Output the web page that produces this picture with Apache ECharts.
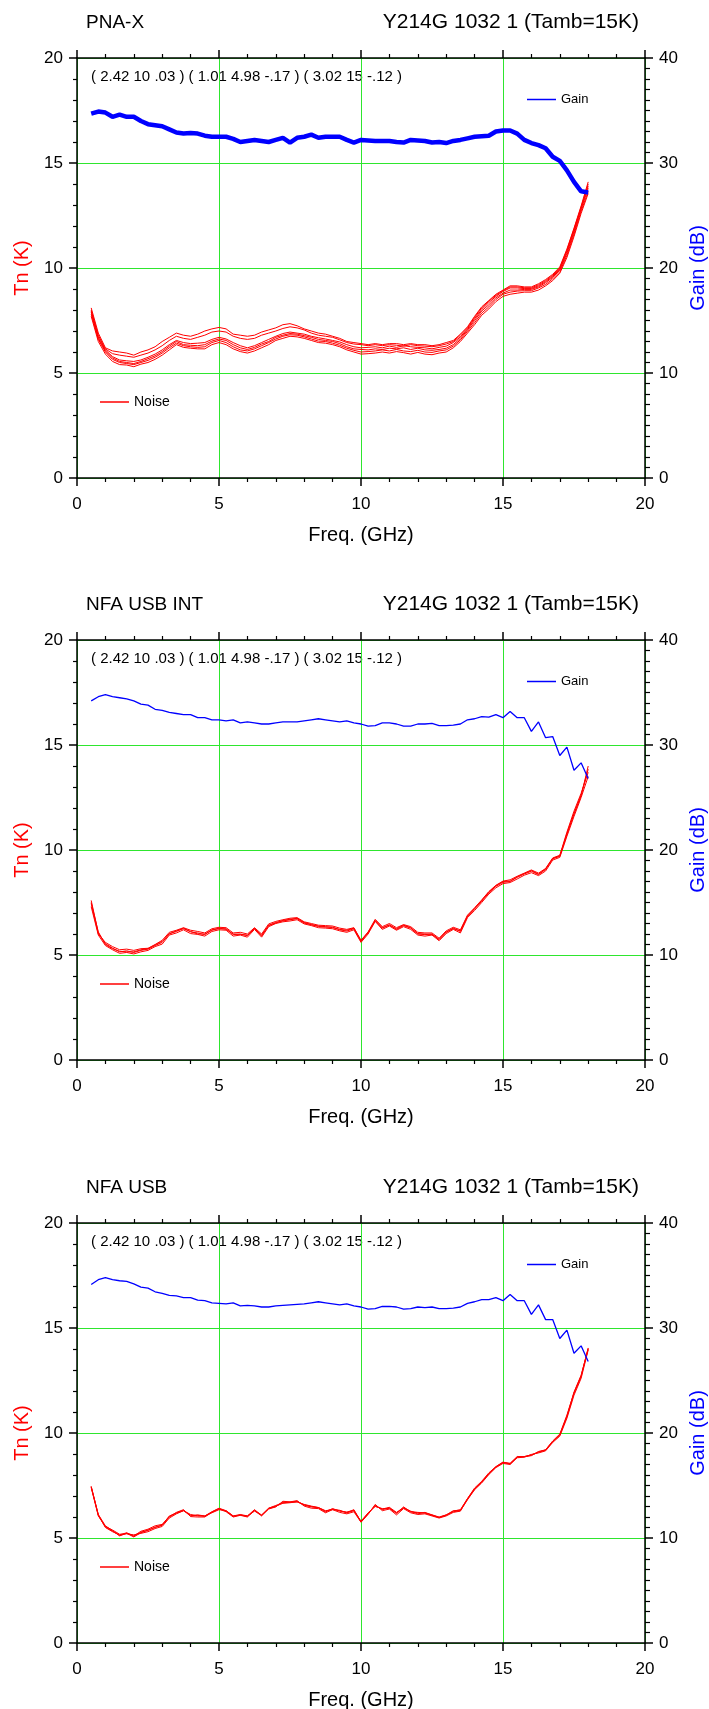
<!DOCTYPE html>
<html>
<head>
<meta charset="utf-8">
<script src="https://cdn.jsdelivr.net/npm/echarts@6/dist/echarts.min.js"></script>
<style>
html, body { margin: 0; padding: 0; background: #fff; }
#chart { width: 709px; height: 1709px; }
</style>
</head>
<body>
<div id="chart"></div>
<script>
// frequency points (GHz)
var freq = [0.5, 0.75, 1, 1.25, 1.5, 1.75, 2, 2.25, 2.5, 2.75, 3, 3.25, 3.5, 3.75, 4, 4.25, 4.5, 4.75, 5, 5.25,
  5.5, 5.75, 6, 6.25, 6.5, 6.75, 7, 7.25, 7.5, 7.75, 8, 8.25, 8.5, 8.75, 9, 9.25, 9.5, 9.75, 10, 10.25,
  10.5, 10.75, 11, 11.25, 11.5, 11.75, 12, 12.25, 12.5, 12.75, 13, 13.25, 13.5, 13.75, 14, 14.25, 14.5, 14.75, 15, 15.25,
  15.5, 15.75, 16, 16.25, 16.5, 16.75, 17, 17.25, 17.5, 17.75, 18]

var titlesLeft = ['PNA-X', 'NFA USB INT', 'NFA USB']
var titleRight = 'Y214G 1032 1 (Tamb=15K)'
var note = '( 2.42 10 .03 ) ( 1.01 4.98 -.17 ) ( 3.02 15 -.12 )'

// PNA-X gain (dB)
var gainPna = [34.7, 34.9, 34.8, 34.4, 34.6, 34.4, 34.4, 34.0, 33.7, 33.6, 33.5, 33.2, 32.9, 32.8, 32.85, 32.8, 32.6, 32.5, 32.5, 32.5,
  32.3, 32.0, 32.1, 32.2, 32.1, 32.0, 32.2, 32.4, 31.95, 32.4, 32.5, 32.7, 32.4, 32.5, 32.5, 32.5, 32.2, 31.95, 32.2, 32.15,
  32.1, 32.1, 32.1, 32.0, 31.95, 32.2, 32.15, 32.1, 31.95, 32.0, 31.9, 32.1, 32.2, 32.35, 32.5, 32.55, 32.6, 33.0, 33.1, 33.1,
  32.8, 32.2, 31.9, 31.7, 31.4, 30.6, 30.2, 29.3, 28.2, 27.3, 27.2]

// PNA-X noise temperature (K), several sweeps
var noisePna1 = [7.7, 6.5, 5.9, 5.55, 5.4, 5.38, 5.3, 5.42, 5.5, 5.65, 5.85, 6.1, 6.35, 6.22, 6.18, 6.15, 6.15, 6.35, 6.45, 6.35,
  6.15, 6.02, 5.95, 6.05, 6.2, 6.35, 6.55, 6.65, 6.75, 6.72, 6.65, 6.55, 6.45, 6.42, 6.35, 6.25, 6.1, 6.0, 5.9, 5.92,
  5.95, 6.0, 5.95, 6.02, 5.97, 5.9, 5.98, 5.9, 5.87, 5.95, 6.0, 6.2, 6.5, 6.9, 7.3, 7.75, 8.05, 8.4, 8.65, 8.75,
  8.8, 8.85, 8.85, 8.95, 9.15, 9.4, 9.75, 10.5, 11.5, 12.6, 13.55]
var noisePna2 = [7.8, 6.6, 6.0, 5.65, 5.5, 5.45, 5.4, 5.5, 5.6, 5.75, 5.95, 6.2, 6.42, 6.3, 6.25, 6.22, 6.25, 6.45, 6.55, 6.45,
  6.25, 6.1, 6.05, 6.15, 6.3, 6.45, 6.62, 6.75, 6.82, 6.8, 6.72, 6.62, 6.52, 6.5, 6.42, 6.32, 6.18, 6.08, 6.0, 6.02,
  6.05, 6.1, 6.05, 6.12, 6.05, 6.02, 6.08, 6.0, 5.98, 6.05, 6.1, 6.28, 6.58, 6.98, 7.4, 7.85, 8.15, 8.5, 8.75, 8.85,
  8.9, 8.92, 8.92, 9.05, 9.22, 9.48, 9.82, 10.6, 11.6, 12.7, 13.65]
var noisePna3 = [7.9, 6.65, 6.05, 5.72, 5.55, 5.5, 5.45, 5.55, 5.68, 5.82, 6.02, 6.28, 6.5, 6.35, 6.32, 6.3, 6.35, 6.52, 6.62, 6.55,
  6.35, 6.2, 6.12, 6.22, 6.38, 6.5, 6.7, 6.8, 6.88, 6.85, 6.78, 6.7, 6.6, 6.55, 6.5, 6.4, 6.25, 6.15, 6.12, 6.1,
  6.15, 6.12, 6.18, 6.15, 6.2, 6.12, 6.18, 6.1, 6.08, 6.12, 6.18, 6.35, 6.65, 7.05, 7.5, 7.95, 8.25, 8.58, 8.8, 8.95,
  8.95, 8.98, 8.98, 9.1, 9.3, 9.55, 9.9, 10.7, 11.7, 12.8, 13.8]
var noisePna4 = [7.95, 6.72, 6.1, 5.78, 5.62, 5.58, 5.55, 5.62, 5.75, 5.9, 6.1, 6.35, 6.55, 6.45, 6.4, 6.42, 6.45, 6.6, 6.7, 6.62,
  6.45, 6.3, 6.2, 6.3, 6.45, 6.6, 6.75, 6.88, 6.95, 6.9, 6.85, 6.75, 6.68, 6.62, 6.55, 6.48, 6.35, 6.25, 6.2, 6.22,
  6.25, 6.2, 6.28, 6.22, 6.3, 6.25, 6.22, 6.2, 6.15, 6.22, 6.28, 6.45, 6.72, 7.1, 7.58, 8.02, 8.35, 8.65, 8.88, 9.05,
  9.05, 9.02, 9.02, 9.15, 9.35, 9.6, 9.95, 10.78, 11.78, 12.85, 13.9]
var noisePna5 = [8.0, 6.8, 6.15, 5.92, 5.85, 5.8, 5.75, 5.85, 5.95, 6.1, 6.3, 6.55, 6.75, 6.65, 6.6, 6.7, 6.8, 6.95, 7.0, 6.95,
  6.75, 6.65, 6.6, 6.65, 6.8, 6.9, 7.0, 7.12, 7.2, 7.15, 7.05, 6.9, 6.8, 6.75, 6.7, 6.58, 6.45, 6.38, 6.35, 6.3,
  6.35, 6.3, 6.35, 6.32, 6.28, 6.35, 6.3, 6.28, 6.25, 6.3, 6.38, 6.5, 6.8, 7.15, 7.65, 8.1, 8.42, 8.7, 8.92, 9.1,
  9.1, 9.06, 9.06, 9.2, 9.4, 9.65, 10.0, 10.85, 11.85, 12.9, 14.0]
var noisePna6 = [8.1, 6.9, 6.2, 6.05, 6.0, 5.95, 5.85, 6.0, 6.1, 6.25, 6.5, 6.7, 6.9, 6.8, 6.75, 6.85, 7.0, 7.1, 7.17, 7.1,
  6.85, 6.8, 6.75, 6.8, 6.95, 7.05, 7.15, 7.3, 7.35, 7.25, 7.1, 7.0, 6.9, 6.85, 6.75, 6.65, 6.5, 6.45, 6.4, 6.35,
  6.4, 6.35, 6.4, 6.4, 6.35, 6.4, 6.35, 6.35, 6.3, 6.35, 6.45, 6.55, 6.85, 7.2, 7.7, 8.15, 8.45, 8.75, 8.95, 9.15,
  9.15, 9.1, 9.1, 9.25, 9.45, 9.7, 10.05, 10.9, 11.9, 12.95, 14.1]

// NFA USB INT
var gainInt = [34.2, 34.6, 34.8, 34.6, 34.5, 34.4, 34.2, 33.9, 33.8, 33.4, 33.3, 33.1, 33.0, 32.9, 32.9, 32.6, 32.6, 32.4, 32.4, 32.3,
  32.4, 32.1, 32.2, 32.1, 32.0, 32.0, 32.1, 32.2, 32.2, 32.2, 32.3, 32.4, 32.5, 32.4, 32.3, 32.2, 32.3, 32.1, 32.0, 31.8,
  31.85, 32.1, 32.1, 32.0, 31.8, 31.8, 32.0, 32.0, 32.05, 31.85, 31.85, 31.9, 32.0, 32.4, 32.5, 32.7, 32.65, 32.9, 32.6, 33.2,
  32.6, 32.6, 31.3, 32.2, 30.7, 30.8, 29.0, 29.8, 27.6, 28.3, 26.8]
var noiseInt1 = [7.6, 6.05, 5.54, 5.33, 5.15, 5.2, 5.12, 5.22, 5.28, 5.45, 5.6, 6.02, 6.12, 6.28, 6.1, 6.05, 5.97, 6.2, 6.25, 6.25,
  5.97, 6.0, 5.92, 6.28, 5.9, 6.42, 6.55, 6.62, 6.68, 6.73, 6.52, 6.44, 6.36, 6.33, 6.33, 6.2, 6.14, 6.25, 5.65, 6.05,
  6.65, 6.28, 6.44, 6.22, 6.4, 6.28, 6.0, 5.97, 6.0, 5.73, 6.08, 6.28, 6.12, 6.84, 7.19, 7.56, 7.96, 8.27, 8.46, 8.5,
  8.7, 8.86, 8.99, 8.83, 9.07, 9.58, 9.7, 10.74, 11.7, 12.57, 14.0]
var noiseInt2 = [7.45, 6.0, 5.6, 5.4, 5.25, 5.28, 5.22, 5.3, 5.32, 5.5, 5.7, 6.08, 6.18, 6.3, 6.18, 6.12, 6.05, 6.25, 6.32, 6.3,
  6.05, 6.08, 6.0, 6.3, 6.0, 6.48, 6.6, 6.68, 6.75, 6.78, 6.58, 6.5, 6.42, 6.4, 6.38, 6.28, 6.22, 6.3, 5.7, 6.1,
  6.7, 6.35, 6.5, 6.3, 6.45, 6.35, 6.08, 6.05, 6.05, 5.8, 6.15, 6.32, 6.2, 6.9, 7.25, 7.62, 8.02, 8.32, 8.52, 8.58,
  8.75, 8.9, 9.05, 8.9, 9.12, 9.62, 9.75, 10.85, 11.85, 12.7, 13.7]
var noiseInt3 = [7.3, 5.95, 5.45, 5.25, 5.08, 5.12, 5.05, 5.15, 5.22, 5.4, 5.52, 5.95, 6.05, 6.2, 6.02, 5.98, 5.9, 6.12, 6.2, 6.18,
  5.9, 5.95, 5.85, 6.22, 5.85, 6.35, 6.5, 6.58, 6.62, 6.68, 6.48, 6.4, 6.3, 6.28, 6.25, 6.15, 6.08, 6.2, 5.6, 6.0,
  6.6, 6.22, 6.38, 6.18, 6.35, 6.22, 5.95, 5.9, 5.95, 5.68, 6.02, 6.22, 6.05, 6.78, 7.12, 7.5, 7.9, 8.2, 8.4, 8.45,
  8.62, 8.8, 8.92, 8.78, 9.0, 9.52, 9.65, 10.65, 11.6, 12.5, 13.5]
var noiseInt4 = [7.5, 6.1, 5.5, 5.3, 5.18, 5.15, 5.15, 5.25, 5.3, 5.48, 5.65, 6.0, 6.15, 6.25, 6.12, 6.0, 6.0, 6.18, 6.28, 6.22,
  6.0, 5.98, 5.95, 6.25, 5.95, 6.4, 6.52, 6.65, 6.7, 6.75, 6.55, 6.45, 6.38, 6.35, 6.3, 6.22, 6.18, 6.28, 5.68, 6.08,
  6.62, 6.3, 6.42, 6.25, 6.42, 6.3, 6.02, 6.0, 5.98, 5.75, 6.1, 6.25, 6.15, 6.86, 7.22, 7.6, 8.0, 8.3, 8.5, 8.52,
  8.72, 8.88, 9.02, 8.85, 9.1, 9.6, 9.72, 10.78, 11.75, 12.62, 13.85]

// NFA USB
var gainUsb = [34.15, 34.6, 34.8, 34.6, 34.5, 34.45, 34.2, 33.9, 33.8, 33.45, 33.3, 33.1, 33.05, 32.9, 32.9, 32.65, 32.6, 32.4, 32.35, 32.3,
  32.4, 32.1, 32.15, 32.1, 32.0, 32.0, 32.1, 32.15, 32.2, 32.25, 32.3, 32.4, 32.5, 32.4, 32.3, 32.2, 32.3, 32.1, 32.0, 31.8,
  31.85, 32.05, 32.05, 32.0, 31.8, 31.85, 32.0, 31.95, 32.0, 31.85, 31.85, 31.9, 32.0, 32.35, 32.5, 32.7, 32.7, 32.9, 32.6, 33.2,
  32.6, 32.6, 31.3, 32.2, 30.8, 30.8, 29.0, 29.8, 27.6, 28.3, 26.8]
var noiseUsb1 = [7.46, 6.08, 5.52, 5.33, 5.12, 5.23, 5.08, 5.28, 5.36, 5.52, 5.6, 6.0, 6.2, 6.32, 6.08, 6.08, 6.03, 6.24, 6.4, 6.28,
  6.03, 6.1, 6.03, 6.32, 6.08, 6.4, 6.5, 6.71, 6.71, 6.75, 6.56, 6.48, 6.44, 6.24, 6.4, 6.28, 6.24, 6.32, 5.76, 6.16,
  6.56, 6.35, 6.44, 6.16, 6.48, 6.24, 6.2, 6.19, 6.08, 5.97, 6.08, 6.28, 6.35, 6.87, 7.35, 7.67, 8.07, 8.39, 8.59, 8.54,
  8.86, 8.86, 8.94, 9.1, 9.18, 9.58, 9.9, 10.77, 11.89, 12.68, 14.03]
var noiseUsb2 = [7.4, 6.05, 5.55, 5.38, 5.18, 5.2, 5.15, 5.22, 5.3, 5.45, 5.55, 5.95, 6.15, 6.3, 6.12, 6.05, 6.05, 6.2, 6.35, 6.3,
  6.05, 6.12, 6.05, 6.28, 6.1, 6.42, 6.52, 6.65, 6.68, 6.72, 6.6, 6.52, 6.45, 6.3, 6.35, 6.32, 6.2, 6.3, 5.8, 6.2,
  6.5, 6.4, 6.4, 6.2, 6.42, 6.28, 6.15, 6.22, 6.1, 6.0, 6.1, 6.25, 6.3, 6.82, 7.3, 7.62, 8.02, 8.35, 8.55, 8.5,
  8.82, 8.85, 8.98, 9.05, 9.15, 9.55, 9.85, 10.7, 11.8, 12.6, 13.95]
var noiseUsb3 = [7.42, 6.1, 5.5, 5.3, 5.15, 5.25, 5.1, 5.32, 5.42, 5.58, 5.65, 6.02, 6.22, 6.35, 6.02, 6.0, 6.0, 6.22, 6.38, 6.25,
  6.0, 6.08, 6.0, 6.3, 6.05, 6.38, 6.48, 6.75, 6.72, 6.78, 6.52, 6.42, 6.4, 6.2, 6.35, 6.22, 6.15, 6.25, 5.75, 6.12,
  6.6, 6.3, 6.38, 6.1, 6.4, 6.2, 6.12, 6.15, 6.05, 5.95, 6.05, 6.22, 6.28, 6.85, 7.32, 7.65, 8.05, 8.38, 8.6, 8.56,
  8.88, 8.88, 8.92, 9.12, 9.2, 9.6, 9.92, 10.8, 11.95, 12.75, 14.0]
var noiseUsb4 = [7.45, 6.12, 5.58, 5.35, 5.1, 5.22, 5.05, 5.25, 5.38, 5.5, 5.62, 6.05, 6.18, 6.3, 6.05, 6.1, 6.05, 6.25, 6.42, 6.3,
  6.05, 6.08, 6.05, 6.35, 6.08, 6.42, 6.55, 6.68, 6.7, 6.72, 6.58, 6.5, 6.45, 6.28, 6.38, 6.3, 6.2, 6.35, 5.78, 6.18,
  6.52, 6.38, 6.46, 6.22, 6.45, 6.26, 6.22, 6.2, 6.1, 5.98, 6.1, 6.3, 6.32, 6.88, 7.38, 7.7, 8.1, 8.4, 8.62, 8.52,
  8.85, 8.88, 8.96, 9.08, 9.2, 9.62, 9.95, 10.85, 11.92, 12.72, 14.05]

var panels = [
  { gain: gainPna, gainWidth: 4.5, noise: [noisePna1, noisePna2, noisePna3, noisePna4, noisePna5, noisePna6] },
  { gain: gainInt, gainWidth: 1.3, noise: [noiseInt1, noiseInt2, noiseInt3, noiseInt4] },
  { gain: gainUsb, gainWidth: 1.3, noise: [noiseUsb1, noiseUsb2, noiseUsb3, noiseUsb4] }
]

var RED = '#ff0000'
var BLUE = '#0000ff'
var GREEN = '#2ee62e'
var FONT = 'Liberation Sans'
var gridLeft = 77
var gridWidth = 568
var gridHeight = 420
var gridTops = [58, 640, 1223]

function pairs(arr) {
  return freq.map(function (f, i) { return [f, arr[i]] })
}

var grid = []
var xAxis = []
var yAxis = []
var series = []
var legend = []
var graphic = []

panels.forEach(function (p, k) {
  var top = gridTops[k]
  // outerBoundsMode none: keep the plot box where it is, names may sit near the edge
  grid.push({ left: gridLeft, top: top, width: gridWidth, height: gridHeight, outerBoundsMode: 'none', containLabel: false })

  // bottom freq axis
  xAxis.push({
    type: 'value', gridIndex: k, min: 0, max: 20, interval: 5, position: 'bottom',
    axisLine: { show: true, onZero: false, lineStyle: { color: '#000', width: 1.5 } },
    axisTick: { show: true, length: 8, lineStyle: { color: '#000', width: 1.5 } },
    minorTick: { show: true, splitNumber: 5, length: 4, lineStyle: { color: '#000', width: 1.2 } },
    splitLine: { show: true, lineStyle: { color: GREEN, width: 1 } },
    axisLabel: { color: '#000', fontSize: 17, margin: 18, fontFamily: FONT },
    name: 'Freq. (GHz)', nameLocation: 'middle', nameGap: 47,
    nameTextStyle: { color: '#000', fontSize: 20, fontFamily: FONT }
  })
  // top frame axis
  xAxis.push({
    type: 'value', gridIndex: k, min: 0, max: 20, interval: 5, position: 'top',
    axisLine: { show: true, onZero: false, lineStyle: { color: '#000', width: 1.5 } },
    axisTick: { show: true, length: 8, lineStyle: { color: '#000', width: 1.5 } },
    minorTick: { show: true, splitNumber: 5, length: 4, lineStyle: { color: '#000', width: 1.2 } },
    splitLine: { show: false },
    axisLabel: { show: false }
  })
  // Tn axis
  yAxis.push({
    type: 'value', gridIndex: k, min: 0, max: 20, interval: 5, position: 'left',
    axisLine: { show: true, onZero: false, lineStyle: { color: '#000', width: 1.5 } },
    axisTick: { show: true, length: 8, lineStyle: { color: '#000', width: 1.5 } },
    minorTick: { show: true, splitNumber: 5, length: 4, lineStyle: { color: '#000', width: 1.2 } },
    splitLine: { show: true, lineStyle: { color: GREEN, width: 1 } },
    axisLabel: { color: '#000', fontSize: 17, margin: 14, fontFamily: FONT },
    name: 'Tn (K)', nameLocation: 'middle', nameGap: 45, nameRotate: 90,
    nameTextStyle: { color: RED, fontSize: 20, fontFamily: FONT }
  })
  // Gain axis
  yAxis.push({
    type: 'value', gridIndex: k, min: 0, max: 40, interval: 10, position: 'right',
    axisLine: { show: true, onZero: false, lineStyle: { color: '#000', width: 1.5 } },
    axisTick: { show: true, length: 8, lineStyle: { color: '#000', width: 1.5 } },
    minorTick: { show: true, splitNumber: 10, length: 5, lineStyle: { color: '#000', width: 1.2 } },
    splitLine: { show: false },
    axisLabel: { color: '#000', fontSize: 17, margin: 14, fontFamily: FONT },
    name: 'Gain (dB)', nameLocation: 'middle', nameGap: 43, nameRotate: 90,
    nameTextStyle: { color: BLUE, fontSize: 20, fontFamily: FONT }
  })

  p.noise.forEach(function (arr) {
    series.push({
      name: 'Noise', type: 'line', xAxisIndex: 2 * k, yAxisIndex: 2 * k,
      data: pairs(arr), showSymbol: false, symbol: 'none', animation: false,
      itemStyle: { color: RED }, lineStyle: { color: RED, width: 1 }, z: 3
    })
  })
  series.push({
    name: 'Gain', type: 'line', xAxisIndex: 2 * k, yAxisIndex: 2 * k + 1,
    data: pairs(p.gain), showSymbol: false, symbol: 'none', animation: false,
    itemStyle: { color: BLUE }, lineStyle: { color: BLUE, width: p.gainWidth }, z: 4
  })

  legend.push({
    data: ['Gain'], left: 527, top: top + 43 - 8, padding: 0, icon: 'rect',
    itemWidth: 29, itemHeight: 1.5, itemGap: 4, selectedMode: false,
    textStyle: { color: '#000', fontSize: 13, fontFamily: FONT }
  })
  legend.push({
    data: ['Noise'], left: 100, top: top + 345 - 8, padding: 0, icon: 'rect',
    itemWidth: 29, itemHeight: 1.5, itemGap: 4, selectedMode: false,
    textStyle: { color: '#000', fontSize: 14, fontFamily: FONT }
  })

  graphic.push({
    type: 'text', left: 86, top: top - 45,
    style: { text: titlesLeft[k], fontSize: 19, fontFamily: FONT, fill: '#000' }
  })
  graphic.push({
    type: 'text', right: 70, top: top - 46,
    style: { text: titleRight, fontSize: 21, fontFamily: FONT, fill: '#000' }
  })
  graphic.push({
    type: 'text', left: 91, top: top + 11,
    style: { text: note, fontSize: 15, fontFamily: FONT, fill: '#000' }
  })
})

var chart = echarts.init(document.getElementById('chart'))
chart.setOption({
  animation: false,
  backgroundColor: '#fff',
  textStyle: { fontFamily: FONT },
  grid: grid,
  xAxis: xAxis,
  yAxis: yAxis,
  legend: legend,
  graphic: graphic,
  series: series
})
</script>
</body>
</html>
